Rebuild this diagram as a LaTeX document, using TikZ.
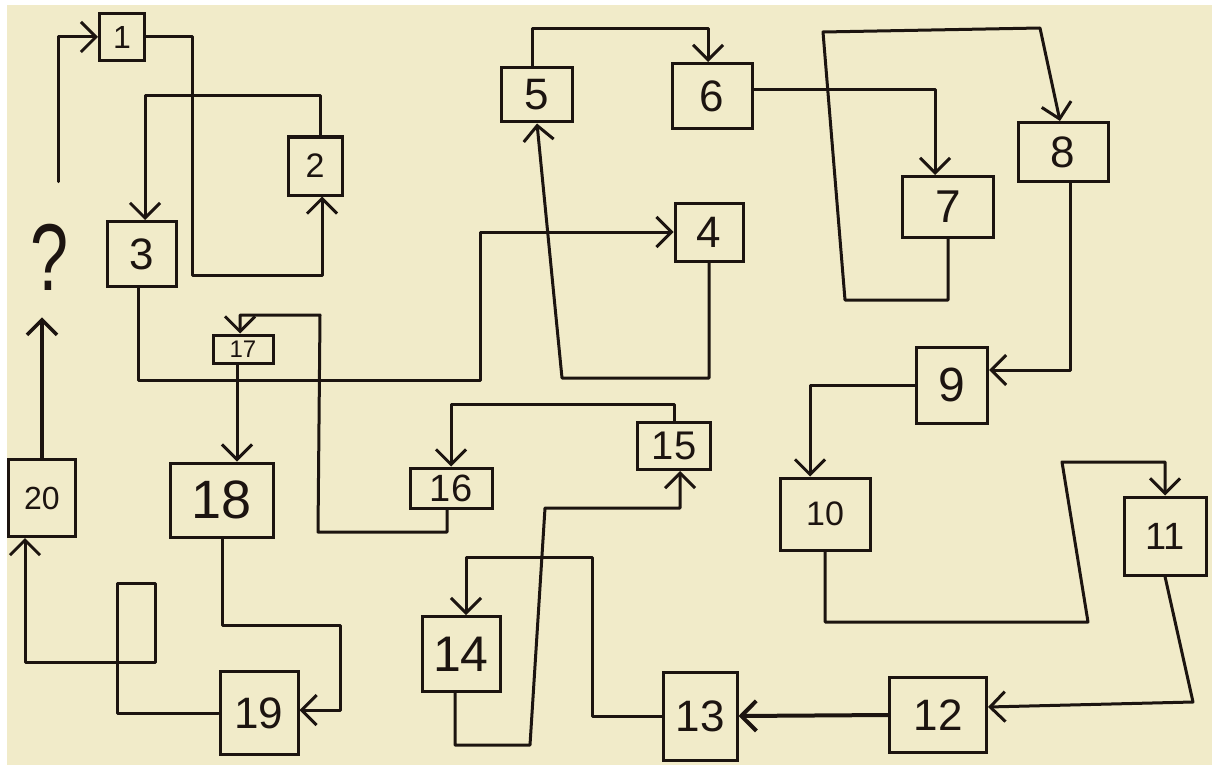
\documentclass[tikz,border=0pt]{standalone}
\usepackage{fontspec}
\setmainfont{Liberation Sans}
\usetikzlibrary{arrows.meta,calc}
\definecolor{paper}{RGB}{241,235,201}
\definecolor{ink}{RGB}{28,20,16}
\tikzset{
  bx/.style n args={3}{draw=ink, line width=3pt, rectangle, inner sep=0pt,
    minimum width=#1pt, minimum height=#2pt, font=\fontsize{#3}{#3}\selectfont, text=ink},
  arr/.style={draw=ink, line width=3pt, line cap=round, line join=round,
    -{Straight Barb[length=15pt,width=30pt]}},
}
\begin{document}
\begin{tikzpicture}[x=1pt,y=-1pt]
\fill[white] (0,0) rectangle (1212,765);
\fill[paper] (7,5) rectangle (1212,765);
\useasboundingbox (0,0) rectangle (1212,765);

% nodes
\node[inner sep=0pt, text=ink, font=\fontsize{95}{95}\selectfont] (q) at (50,257) {\scalebox{0.72}[1]{?}};
\node[bx={45}{47}{32}] (n1) at (122,37) {1};
\node[bx={54}{58}{34}] (n2) at (315,166) {2};
\node[bx={69}{65}{44}] (n3) at (142,254) {3};
\node[bx={68}{58}{44}] (n4) at (709,232) {4};
\node[bx={71}{54}{44}] (n5) at (537,95) {5};
\node[bx={80}{65}{44}] (n6) at (712,96) {6};
\node[bx={91}{61}{46}] (n7) at (948,207) {7};
\node[bx={90}{59}{44}] (n8) at (1063,152) {8};
\node[bx={71}{76}{48}] (n9) at (952,385) {9};
\node[bx={90}{72}{34}] (n10) at (825,514) {10};
\node[bx={82}{78}{38}] (n11) at (1165,536) {11};
\node[bx={97}{75}{44}] (n12) at (938,715) {12};
\node[bx={74}{88}{44}] (n13) at (700,716) {13};
\node[bx={78}{75}{50}] (n14) at (461,654) {14};
\node[bx={73}{47}{40}] (n15) at (674,446) {15};
\node[bx={82}{40}{38}] (n16) at (451,488) {16};
\node[bx={60}{28}{24}] (n17) at (243,349) {17};
\node[bx={103}{74}{54}] (n18) at (222,500) {18};
\node[bx={78}{83}{44}] (n19) at (259,713) {19};
\node[bx={67}{77}{32}] (n20) at (42,498) {20};

% connectors
\draw[arr, shorten <=42pt] ([xshift=8pt]q.north) |- (n1.west);
\draw[arr] (n1.east) -| (192,275) -| ([xshift=7pt]n2.south);
\draw[arr] ([xshift=5pt]n2.north) -- ++(0,-40) -| ([xshift=3pt]n3.north);
\draw[arr] ([xshift=-4pt]n3.south) |- (480,380) |- (n4.west);
\draw[arr] (n4.south) |- (562,378) -- (n5.south);
\draw[arr] ([xshift=-5pt]n5.north) -- ++(0,-38) -| ([xshift=-4pt]n6.north);
\draw[arr] ([yshift=6pt]n6.east) -| ([xshift=-13pt]n7.north);
\draw[arr] (n7.south) |- (845,300) -- (823,32) -- (1040,28) -- ([xshift=-3pt]n8.north);
\draw[arr] ([xshift=7pt]n8.south) |- ([yshift=15pt]n9.east);
\draw[arr] (n9.west) -| ([xshift=-15pt]n10.north);
\draw[arr] (n10.south) |- (1088,622) -- (1062,462) -| (n11.north);
\draw[arr] (n11.south) -- (1193,702) -- ([yshift=8pt]n12.east);
\draw[arr, line width=4pt] (n12.west) -- (n13.east);
\draw[arr] (n13.west) -| (592,557) -| ([xshift=5pt]n14.north);
\draw[arr] ([xshift=-6pt]n14.south) |- (530,745) -- (545,508) -| ([xshift=6pt]n15.south);
\draw[arr] (n15.north) -- ++(0,-17) -| (n16.north);
\draw[arr] ([xshift=-4pt]n16.south) |- (318,532) -- (320,315) -| ([xshift=-3pt]n17.north);
\draw[arr] ([xshift=-6pt]n17.south) -- ([xshift=-6pt]n17.south |- n18.north);
\draw[arr] (n18.south) |- (340,625) |- ([yshift=3pt]n19.east);
\draw[arr] (n19.west) -| (117,583) -| (155,662) -| ([xshift=-17pt]n20.south);
\draw[arr, line width=3.6pt, shorten >=27pt] (n20.north) -- (n20.north |- q.south);
\end{tikzpicture}
\end{document}
